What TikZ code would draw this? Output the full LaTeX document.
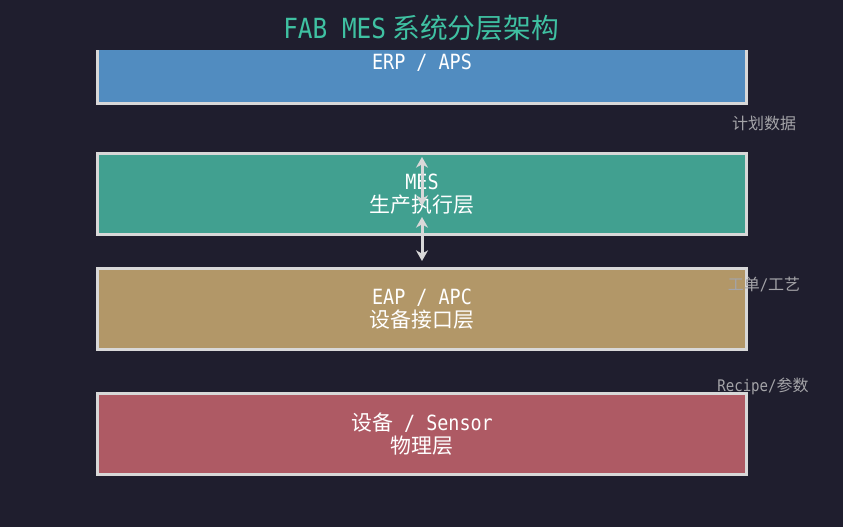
\documentclass[tikz,border=0pt]{standalone}
\usepackage{fontspec}
\setmainfont{Noto Sans CJK SC}
\newfontfamily\latinmono[FakeStretch=0.88]{DejaVu Sans Mono}
\usetikzlibrary{arrows.meta}
\definecolor{bgdark}{HTML}{1F1E2E}
\definecolor{edgegray}{HTML}{D8D8D8}
\definecolor{erpblue}{HTML}{518CC0}
\definecolor{mesteal}{HTML}{41A090}
\definecolor{eaptan}{HTML}{B29768}
\definecolor{phyred}{HTML}{AE5A64}
\definecolor{titlegreen}{HTML}{3FC1A2}
\definecolor{flowgray}{HTML}{A4A4A8}

\begin{document}
\begin{tikzpicture}[x=0.75pt,y=-0.75pt,
  layer/.style={draw=edgegray, line width=2.25pt, minimum width=486.75pt,
    minimum height=60.75pt, inner sep=0pt, align=center, text=white,
    font=\fontsize{15.7}{17.5}\selectfont},
  flow/.style={text=flowgray, font=\fontsize{12}{14}\selectfont},
  link/.style={draw=edgegray, line width=2.25pt,
    {Stealth[length=8pt,width=9pt,inset=2.5pt]}-{Stealth[length=8pt,width=9pt,inset=2.5pt]}}]
\fill[bgdark] (0,0) rectangle (843,527);
\useasboundingbox (0,0) rectangle (843,527);

% layers
\node[layer, fill=erpblue] (erp) at (422,63) {{\latinmono ERP / APS}};
\node[layer, fill=mesteal] (mes) at (422,194) {{\latinmono MES}\\生产执行层};
\node[layer, fill=eaptan] (eap) at (422,309) {{\latinmono EAP / APC}\\设备接口层};
\node[layer, fill=phyred] (phy) at (422,434) {设备{\latinmono\ / Sensor}\\物理层};

% title band
\fill[bgdark] (0,0) rectangle (843,50);
\node[text=titlegreen, font=\fontsize{20.8}{24}\selectfont] (title) at (421,28) {{\latinmono FAB MES} 系统分层架构};

% data flows
\node[flow] (plan) at (764,123) {计划数据};
\node[flow] (order) at (764,285) {工单{\latinmono/}工艺};
\node[flow] (recipe) at (763,386) {{\latinmono Recipe/}参数};

\coordinate (mestop) at (422,157);
\coordinate (mesmid) at (422,206);
\coordinate (mesbot) at (422,217);
\coordinate (eaptop) at (422,261);
\draw[link] (mestop) -- (mesmid);
\draw[link] (mesbot) -- (eaptop);
\end{tikzpicture}
\end{document}
